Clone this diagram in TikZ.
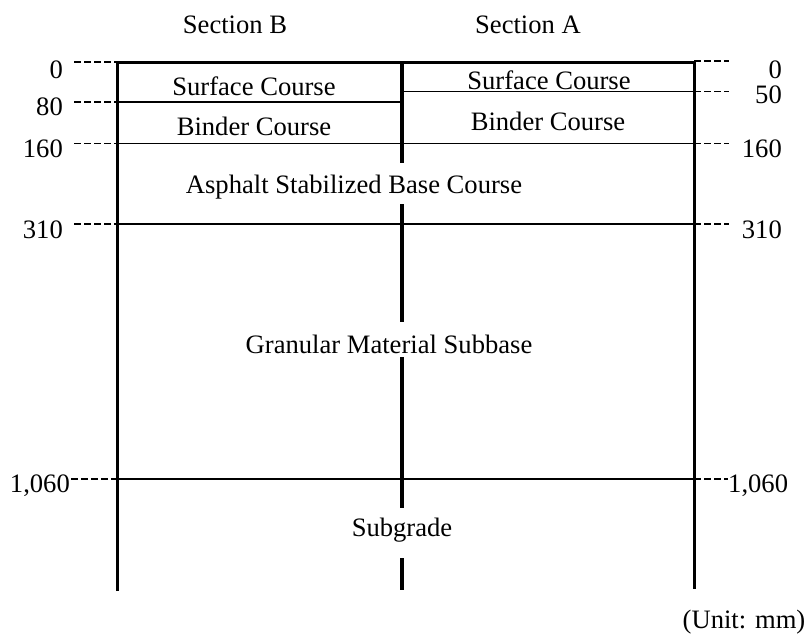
\documentclass[tikz,border=0pt]{standalone}
\usepackage{fontspec}
\setmainfont{Liberation Serif}
\begin{document}
\begin{tikzpicture}[x=1pt,y=-1pt,
  lbl/.style={inner sep=0pt, font=\fontsize{26.6}{30}\selectfont},
  frame/.style={line width=3pt, line join=miter},
  divider/.style={line width=3.2pt},
  layer/.style={line width=1.2pt},
  tick/.style={line width=1.3pt, dash pattern=on 6.5pt off 3.5pt}]
\useasboundingbox (0,0) rectangle (808,633);

% coordinates
\coordinate (TL) at (117,62);
\coordinate (TR) at (694,62);
\coordinate (BL) at (117,591);
\coordinate (BR) at (694,589);
\coordinate (M0) at (402,62);
\coordinate (M1) at (402,163);
\coordinate (M2) at (402,204);
\coordinate (M3) at (402,322);
\coordinate (M4) at (402,357);
\coordinate (M5) at (402,508);
\coordinate (M6) at (402,558);
\coordinate (M7) at (402,590);

\coordinate (L80) at (117,102);
\coordinate (C80) at (402,102);
\coordinate (C50) at (402,91.5);
\coordinate (R50) at (694,91.5);
\coordinate (L160) at (117,143.5);
\coordinate (R160) at (694,143.5);
\coordinate (L310) at (117,224);
\coordinate (R310) at (694,224);
\coordinate (L1060) at (117,479);
\coordinate (R1060) at (694,479);

% dash ends
\coordinate (dL0) at (74,62);
\coordinate (dL80) at (74,102);
\coordinate (dL160) at (74,143.5);
\coordinate (dL310) at (74,224);
\coordinate (dL1060) at (71,479);
\coordinate (dR0) at (729,61);
\coordinate (dR50) at (729,91.5);
\coordinate (dR160) at (729,143.5);
\coordinate (dR310) at (729,224);
\coordinate (dR1060) at (728,479);

% frame
\draw[frame] (BL) -- (TL) -- (TR) -- (BR);
% middle divider
\draw[divider] (M0) -- (M1);
\draw[divider] (M2) -- (M3);
\draw[divider] (M4) -- (M5);
\draw[divider] (M6) -- (M7);

% layer boundaries
\draw[layer] (L80) -- (C80);
\draw[layer] (C50) -- (R50);
\draw[layer] (L160) -- (R160);
\draw[layer] (L310) -- (R310);
\draw[layer] (L1060) -- (R1060);

% depth ticks
\draw[tick] (dL0) -- (TL);
\draw[tick] (dL80) -- (L80);
\draw[tick] (dL160) -- (L160);
\draw[tick] (dL310) -- (L310);
\draw[tick] (dL1060) -- (L1060);
\draw[tick] (TR |- dR0) -- (dR0);
\draw[tick] (R50) -- (dR50);
\draw[tick] (R160) -- (dR160);
\draw[tick] (R310) -- (dR310);
\draw[tick] (R1060) -- (dR1060);

% headings
\node[lbl, anchor=base] (secB) at (235,33) {Section B};
\node[lbl, anchor=base] (secA) at (528,33) {Section A};

% layer names
\node[lbl, anchor=base] (surfB) at (254,95) {Surface Course};
\node[lbl, anchor=base] (bindB) at (254,135) {Binder Course};
\node[lbl, anchor=base] (surfA) at (549,89) {Surface Course};
\node[lbl, anchor=base] (bindA) at (548,130) {Binder Course};
\node[lbl, anchor=base] (asph) at (354,193) {Asphalt Stabilized Base Course};
\node[lbl, anchor=base] (gran) at (389,353) {Granular Material Subbase};
\node[lbl, anchor=base] (subg) at (402,536) {Subgrade};
\node[lbl, anchor=base] (unit) at (744,628) {(Unit: mm)};

% depth labels left
\node[lbl, anchor=base east] (l0) at (63,78) {0};
\node[lbl, anchor=base east] (l80) at (63,115) {80};
\node[lbl, anchor=base east] (l160) at (63,157) {160};
\node[lbl, anchor=base east] (l310) at (63,238) {310};
\node[lbl, anchor=base east] (l1060) at (70,492) {1,060};

% depth labels right
\node[lbl, anchor=base east] (r0) at (782,78) {0};
\node[lbl, anchor=base east] (r50) at (782,103) {50};
\node[lbl, anchor=base east] (r160) at (782,157) {160};
\node[lbl, anchor=base east] (r310) at (782,238) {310};
\node[lbl, anchor=base west] (r1060) at (728,492) {1,060};
\end{tikzpicture}
\end{document}
